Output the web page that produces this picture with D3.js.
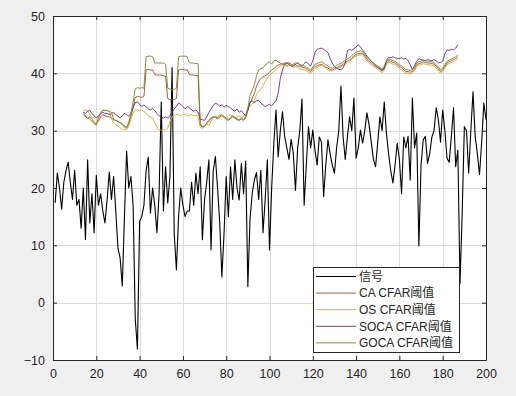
<!DOCTYPE html>
<html><head><meta charset="utf-8">
<script src="https://cdn.jsdelivr.net/npm/d3@7/dist/d3.min.js"></script>
<style>body{margin:0;background:#f0f0f0;} svg{display:block;}</style>
</head><body><svg id="c" width="516" height="396"></svg>
<script>
const xTicks = [0,20,40,60,80,100,120,140,160,180,200];
const yTicks = [-10,0,10,20,30,40,50];
const seriesNames = ["信号","CA CFAR阈值","OS CFAR阈值","SOCA CFAR阈值","GOCA CFAR阈值"];
const seriesColors = ["#000000","#A8482A","#D9A830","#6A2A7A","#6E8A2E"];

const signal = [
17.4,22.6,20,16.3,21,23,24.5,21,18,23.1,
17,18,13,20,11,24.9,13.9,19,12.2,22.2,
17,19,16,13.9,18,22.8,18,22,16,9.5,
7.8,2.9,15,26.4,20,22,17,-2.9,-8.1,14.2,
15,17,23,25.4,15.6,20,17,12.2,19,35,
16,23.7,17.4,22,41,12,5.7,15,20,17,
15,16,16,21,17,22.6,19,23.7,11,18,
21,24.9,9.2,23,25.5,20,14,4.5,12,22,
15,23.7,18,24.9,20,17.9,24.3,19,24.7,2.8,
14.6,19,21.4,22.7,18,23.1,12.2,18,24.9,9.2,
20,27.8,33.6,25.4,30,33.3,29,27,25,28.5,
26,19.6,27,30,35.5,17,24,30.7,27,30.1,
26.6,24,28.9,28,18.5,24,28.4,26,24,22.6,
27,30,37.8,28.9,25,29,32.4,30,35.7,25.2,
27,30.1,27.8,30,33.1,31,28,25,23.7,28,
32.4,30,35,29.6,26,23,20.9,24,27.8,25,
19,28.9,27,29,21.4,35.7,27,29.6,9.9,24,
28.4,29,24.3,26,28.9,30,34,31.9,28,33.6,
30,25.2,24.5,29,34,23.7,26.6,3.3,15.6,30.7,
30,22.6,30,36.8,29,26,22.3,28,34.8,31.9
];

const thrStart = 14;
const caThr = [
32.8,32.4,32.2,32.4,32,31.5,31.2,
31.6,32.4,32.8,32.6,32.5,32.4,32.2,31.9,31.8,31.6,
31.4,31.2,30.8,30.6,31.2,32.5,34,35.8,36,35.9,
35.8,36,40.6,40.7,40.6,40.6,39.8,39.7,39.7,39.7,
39.6,39.5,35.6,35.4,35.3,35.5,35.6,40.6,40.7,40.7,
40.6,40.6,39.8,39.7,39.7,39.6,39.6,31.2,30.7,30.9,
31.3,31.8,32.2,32.4,32.3,32,32.4,32.6,32.3,32,
31.8,32.1,32.4,32.2,31.9,31.8,32,31.8,32.2,33.5,
34.8,35.6,36.5,37.8,38.6,39.1,39.4,39.6,39.8,40.2,
40.6,40.8,41.2,41.4,41.6,41.7,41.8,41.8,41.8,41.6,
41.4,41.5,41.3,41.2,41.1,41.0,40.8,40.5,40.3,40.8,
41.2,41.3,41.5,41.6,41.4,41.1,40.9,40.7,40.6,40.8,
41.0,41.2,41.3,41.6,41.9,42.1,42.3,42.7,43.0,43.3,
43.4,43.5,43.5,43.0,42.5,42.1,41.8,41.5,41.2,41.0,
40.7,40.4,41.0,41.7,42.2,42.1,41.9,41.8,41.5,41.2,
41.0,40.6,40.3,40.3,40.2,40.3,40.8,41.5,41.7,41.8,
42.0,41.9,41.8,41.8,41.7,41.6,41.2,40.8,40.3,40.6,
41.2,41.8,42.0,42.2,42.4,42.6,42.9
];
const osThr = [
33.5,33.6,33.4,32.8,32.2,31.4,31,
31.8,33,33.6,33.6,33.5,33.2,32.2,31.4,31,30.8,
30.5,30.2,30.1,30.2,30.8,32,33,33.6,33.6,33.5,
33.6,33.4,33,32.6,32.4,32.2,31.4,30.6,30.1,30.1,
30.2,30.1,30.4,31.6,32.4,32.6,32.8,32.8,32.6,32.8,
32.9,32.6,32.6,32.8,32.6,32.7,32.5,30.6,30.4,30.8,
31.2,30.9,31.6,32.2,32.6,32.4,32.8,32.6,32.4,32.2,
32.6,32.8,32.5,32.2,32.4,32.6,32.3,32.5,32.8,34,
34.3,34.6,35,36.4,36.8,37.2,37.8,38.6,39.2,39.7,
40,40.3,40.6,41,41.2,41.5,41.6,41.4,41.6,41.3,
41.0,41.2,41.0,40.8,40.7,40.6,40.5,40.2,40.0,40.4,
40.9,41.0,41.3,41.4,41.2,40.9,40.6,40.5,40.4,40.6,
40.8,41.0,41.1,41.4,41.6,41.9,42.1,42.4,42.8,43.0,
43.2,43.2,43.3,42.7,42.2,41.8,41.5,41.2,41.0,40.7,
40.4,40.1,40.6,41.4,41.9,41.8,41.6,41.5,41.2,40.9,
40.6,40.3,40.0,40.0,39.9,40.0,40.5,41.2,41.4,41.5,
41.7,41.6,41.5,41.5,41.4,41.3,40.9,40.4,40.0,40.3,
40.9,41.5,41.7,41.9,42.1,42.3,42.6
];
const socaThr = [
33.2,33,33.4,33.5,33,32.6,32.2,
32.6,33,33.2,33,33,32.8,33,33.2,32.8,32.5,
32.2,32.6,33,32.8,32.5,33,34,34.9,35,34.6,
34.2,34.5,34.2,33.8,33.6,33.9,33.5,33,32.6,32.4,
32.2,32.4,32.2,32.6,33.2,33.8,34.2,34.8,34.6,34.2,
33.8,34.2,34,33.6,33.4,33.6,33.2,32,31.9,31.8,
32.4,33.2,33.8,34.4,34.8,34.6,34.3,34.5,34.1,34.4,
34.2,34,33.6,33.4,33.8,33.2,33.5,33,32.6,33.6,
35,35.2,34.9,35.2,35.3,34.8,34.5,34.2,34.4,34.6,
34.3,34.8,35.2,36.5,39.1,40.6,41.6,41.8,41.6,41.3,
41.2,41.6,41.9,41.5,41.3,41.7,42.0,41.6,41.3,42.2,
43.6,44.2,44.3,44.4,44.2,43.9,43.6,42.6,41.8,41.2,
40.9,40.7,40.6,41.0,41.8,44.0,44.2,44.0,44.3,44.6,
45.0,44.6,44.1,43.6,43.0,42.6,42.1,41.8,41.4,41.0,
40.8,40.6,40.8,42.3,42.8,42.7,42.9,42.7,42.6,42.6,
42.7,42.5,42.6,42.2,41.5,40.7,41.4,42.1,42.6,42.4,
42.3,42.2,42.4,42.3,42.2,42.4,42.2,41.8,41.9,42.1,
43.4,44.1,44.0,44.2,44.1,44.4,45.0
];
const gocaThr = [
33.0,32.6,32.2,32.0,31.6,31.2,31.0,
32.4,33.2,33.5,33.5,33.5,33.4,33.2,32.0,31.8,31.6,
31.4,31.0,30.6,30.4,31.5,33.0,35.0,37.3,37.5,37.4,
37.5,37.4,42.9,43.0,43.0,42.9,41.8,41.8,41.8,41.8,
41.8,41.6,37.4,37.3,37.1,37.2,37.4,42.9,43.0,43.0,
43.0,42.9,41.8,41.8,41.8,41.7,41.7,31.0,30.6,30.8,
31.2,31.6,32.0,32.4,32.4,32.2,32.6,32.8,32.5,32.2,
32.0,32.3,32.6,32.4,32.1,31.9,32.2,32.0,32.4,34.0,
36.0,37.1,38.0,39.5,40.6,40.8,41.0,41.3,41.8,42.0,
41.6,42.2,42.3,42.0,41.8,41.5,41.6,41.2,41.5,41.3,
41.6,41.8,41.7,41.5,41.4,41.3,41.1,40.8,40.6,41.1,
41.6,41.7,41.9,42.0,41.8,41.5,41.3,41.0,40.9,41.1,
41.4,41.6,41.7,42.0,42.3,42.5,42.7,43.1,43.4,43.7,
43.8,43.9,43.8,43.3,42.8,42.4,42.1,41.8,41.5,41.3,
41.0,40.7,41.3,42.0,42.5,42.4,42.2,42.1,41.8,41.5,
41.3,40.9,40.6,40.6,40.5,40.6,41.1,41.8,42.0,42.1,
42.3,42.2,42.1,42.1,42.0,41.9,41.5,41.1,40.6,40.9,
41.5,42.1,42.3,42.5,42.7,42.9,43.2
];

const svg = d3.select("#c");
const L = 53, T = 16, R = 486, B = 360;
const x = d3.scaleLinear().domain([0, 200]).range([L, R]);
const y = d3.scaleLinear().domain([-10, 50]).range([B, T]);
const axisColor = "#262626";

svg.append("rect").attr("x", L).attr("y", T).attr("width", R - L).attr("height", B - T).attr("fill", "#fff");

// grid
svg.append("g").selectAll("line").data(xTicks.slice(1, -1)).join("line")
  .attr("x1", d => Math.round(x(d)) + 0.5).attr("x2", d => Math.round(x(d)) + 0.5)
  .attr("y1", T).attr("y2", B).attr("stroke", "#dcdcdc").attr("stroke-width", 1);
svg.append("g").selectAll("line").data(yTicks.slice(1, -1)).join("line")
  .attr("y1", d => Math.round(y(d)) + 0.5).attr("y2", d => Math.round(y(d)) + 0.5)
  .attr("x1", L).attr("x2", R).attr("stroke", "#dcdcdc").attr("stroke-width", 1);

const plot = svg.append("g");
const line = d3.line().x(d => x(d[0])).y(d => y(d[1]));
const sigData = signal.map((v, i) => [i + 1, v]);
const thrSets = [caThr, osThr, socaThr, gocaThr].map(a => a.map((v, i) => [thrStart + i, v]));

plot.append("path").datum(sigData).attr("d", line).attr("fill", "none")
  .attr("stroke", seriesColors[0]).attr("stroke-width", 1.1).attr("stroke-linejoin", "round");
thrSets.forEach((s, k) => {
  plot.append("path").datum(s).attr("d", line).attr("fill", "none")
    .attr("stroke", seriesColors[k + 1]).attr("stroke-width", 0.9).attr("stroke-linejoin", "round");
});

// axes (MATLAB style: inward ticks, box)
const fontFam = "'Liberation Sans', Arial, Helvetica, sans-serif";
const xAxisB = d3.axisBottom(x).tickValues(xTicks).tickSizeInner(-4).tickSizeOuter(0).tickPadding(9);
const xAxisT = d3.axisTop(x).tickValues(xTicks).tickSizeInner(-4).tickSizeOuter(0).tickFormat("");
const yAxisL = d3.axisLeft(y).tickValues(yTicks).tickSizeInner(-4).tickSizeOuter(0).tickPadding(8);
const yAxisR = d3.axisRight(y).tickValues(yTicks).tickSizeInner(-4).tickSizeOuter(0).tickFormat("");

function style(g) {
  g.selectAll("path").attr("stroke", axisColor);
  g.selectAll("line").attr("stroke", axisColor);
  g.selectAll("text").attr("fill", axisColor).attr("font-size", "12.5px").attr("font-family", fontFam);
  g.attr("font-family", fontFam);
}
svg.append("g").attr("transform", `translate(0,${B})`).call(xAxisB).call(style);
svg.append("g").attr("transform", `translate(0,${T})`).call(xAxisT).call(style);
svg.append("g").attr("transform", `translate(${L},0)`).call(yAxisL).call(style);
svg.append("g").attr("transform", `translate(${R},0)`).call(yAxisR).call(style);

// legend
const lg = svg.append("g");
const lx = 313, ly = 267, lw = 146, lh = 85;
lg.append("rect").attr("x", lx + 0.5).attr("y", ly + 0.5).attr("width", lw).attr("height", lh)
  .attr("fill", "#fff").attr("stroke", axisColor).attr("stroke-width", 1);
seriesNames.forEach((name, i) => {
  const yy = 276.5 + i * 16.6;
  lg.append("line").attr("x1", 316).attr("x2", 356).attr("y1", yy).attr("y2", yy)
    .attr("stroke", seriesColors[i]).attr("stroke-width", i === 0 ? 1.1 : 0.9);
  lg.append("text").attr("x", 359).attr("y", yy).attr("dy", "0.36em")
    .attr("font-size", "12px").attr("fill", axisColor)
    .attr("font-family", "'Liberation Sans', Arial, 'Noto Sans CJK SC', sans-serif")
    .text(name);
});
</script></body></html>
